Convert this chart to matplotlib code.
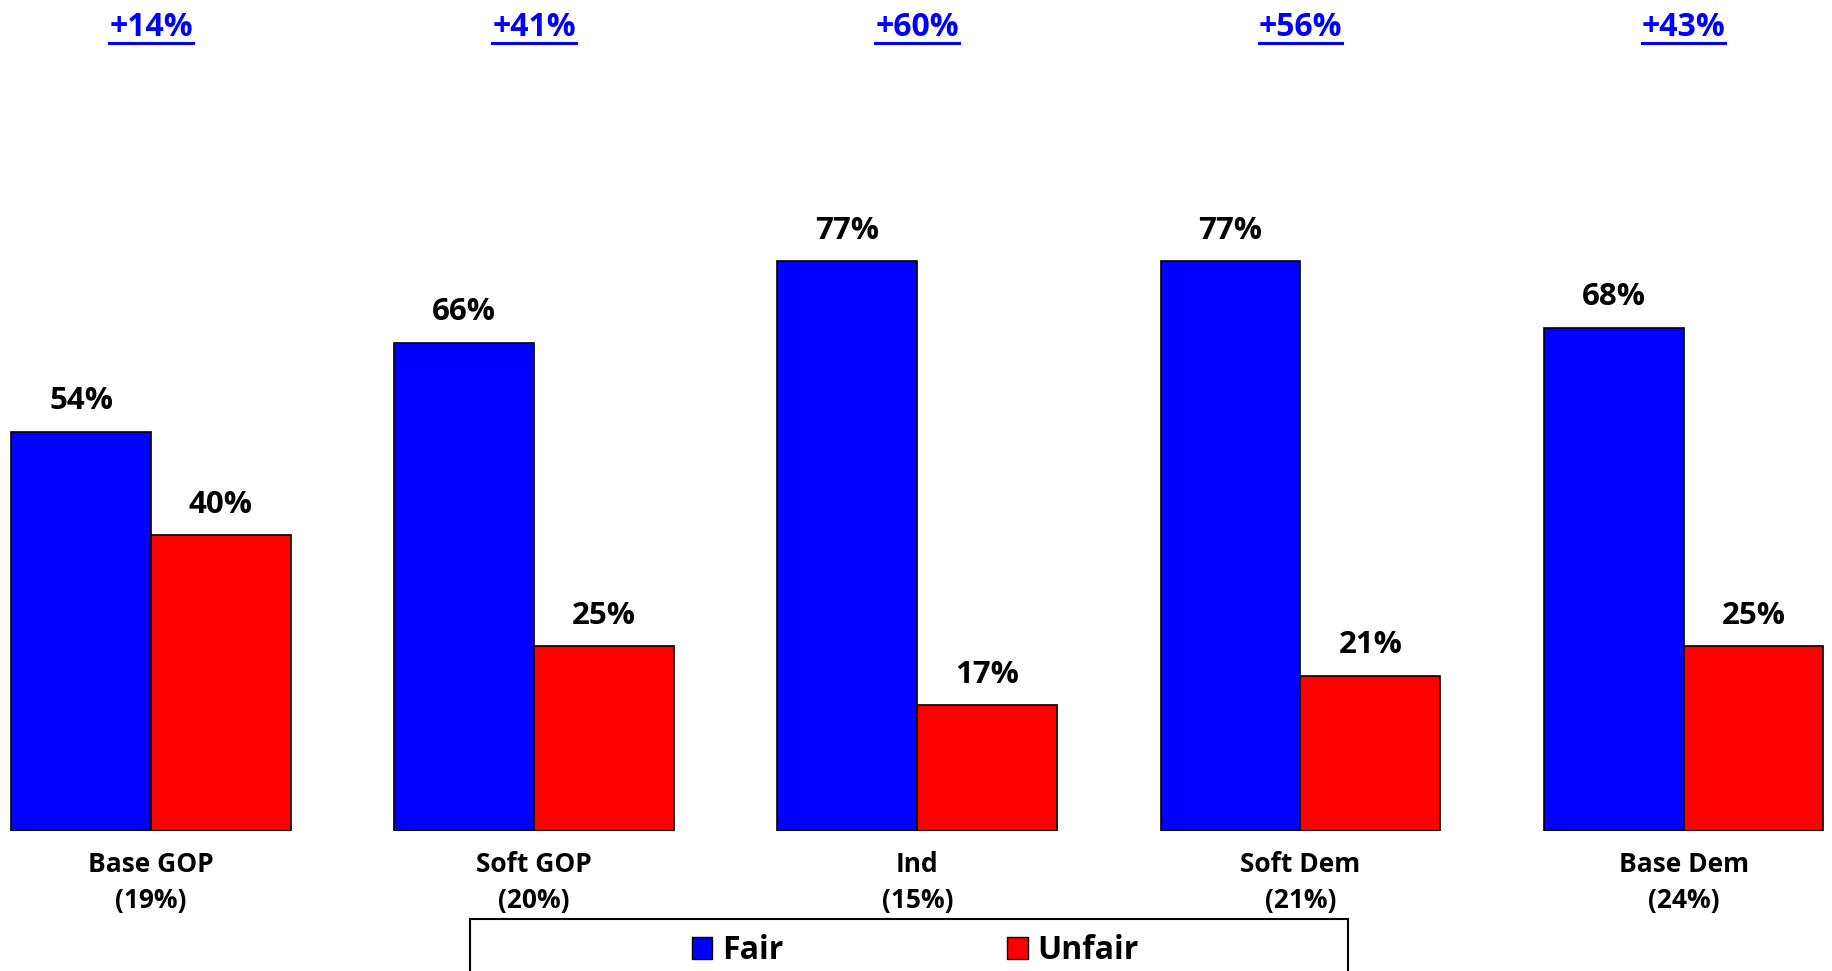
import numpy as np
import matplotlib.pyplot as plt
from matplotlib import font_manager
from matplotlib.font_manager import FontProperties
from matplotlib.patches import Rectangle, Patch
from matplotlib.lines import Line2D


def bold_font_file():
    # find an installed static bold face file
    for fam in ['Noto Sans', 'Open Sans', 'Liberation Sans', 'DejaVu Sans']:
        for f in font_manager.fontManager.ttflist:
            if f.name == fam and f.style == 'normal' and f.weight in (700, 'bold') \
                    and 'Bold' in f.fname and 'Italic' not in f.fname \
                    and 'Condensed' not in f.fname and 'Semi' not in f.fname:
                return f.fname
    return None


bfile = bold_font_file()


def bold(size):
    if bfile:
        return FontProperties(fname=bfile, size=size)
    return FontProperties(family='DejaVu Sans', weight='bold', size=size)


# Data
groups = ['Base GOP\n(19%)', 'Soft GOP\n(20%)', 'Ind\n(15%)', 'Soft Dem\n(21%)', 'Base Dem\n(24%)']
fair = [54, 66, 77, 77, 68]
unfair = [40, 25, 17, 21, 25]

blue = '#0000FF'
red = '#FF0000'

fig = plt.figure(figsize=(18.33, 9.71), dpi=100)
ax = fig.add_axes([0, 0.144, 1, 0.762])

x = np.arange(len(groups))
w = 0.365

b1 = ax.bar(x - w/2, fair, w, color=blue, edgecolor='black', lw=1.2)
b2 = ax.bar(x + w/2, unfair, w, color=red, edgecolor='black', lw=1.2)

# value labels above bars
for bars, vals in [(b1, fair), (b2, unfair)]:
    for r, v in zip(bars, vals):
        ax.annotate(f'{v}%', (r.get_x() + r.get_width()/2, v), xytext=(0, 22),
                    textcoords='offset points', ha='center', va='center',
                    fontproperties=bold(22.5))

ax.set_xlim(-0.394, 4.39)
ax.set_ylim(0, 100)
ax.set_xticks(x)
ax.set_xticklabels(groups, fontproperties=bold(19), linespacing=1.45)
ax.tick_params(axis='x', length=0, pad=14)
ax.set_yticks([])
for s in ax.spines.values():
    s.set_visible(False)

# gap labels at top, underlined
gap_texts = []
for xi, f, u in zip(x, fair, unfair):
    t = ax.text(xi, 108.6, f'+{f - u}%', ha='center', va='center', color=blue,
                fontproperties=bold(23), clip_on=False)
    gap_texts.append(t)

fig.canvas.draw()
inv = fig.transFigure.inverted()
for t in gap_texts:
    bb = t.get_window_extent()
    (x0, y0), (x1, _) = inv.transform([(bb.x0, bb.y0), (bb.x1, bb.y1)])
    fig.add_artist(Line2D([x0, x1], [y0 + 0.001, y0 + 0.001], color=blue, lw=2.2,
                          transform=fig.transFigure))

# legend box (cut off at bottom like the original)
fig.add_artist(Rectangle((470/1833, -0.05), 878/1833, (971 - 919)/971 + 0.05,
                         transform=fig.transFigure, fill=False, edgecolor='black', lw=1.5))
handles = [Patch(facecolor=blue, edgecolor='black'), Patch(facecolor=red, edgecolor='black')]
fig.legend(handles, ['Fair', 'Unfair'], loc='center', bbox_to_anchor=(915/1833, 0.021),
           ncol=2, frameon=False, prop=bold(23),
           handlelength=0.65, handleheight=0.65, handletextpad=0.3, columnspacing=7.0)

fig.savefig('out.png', dpi=100)
